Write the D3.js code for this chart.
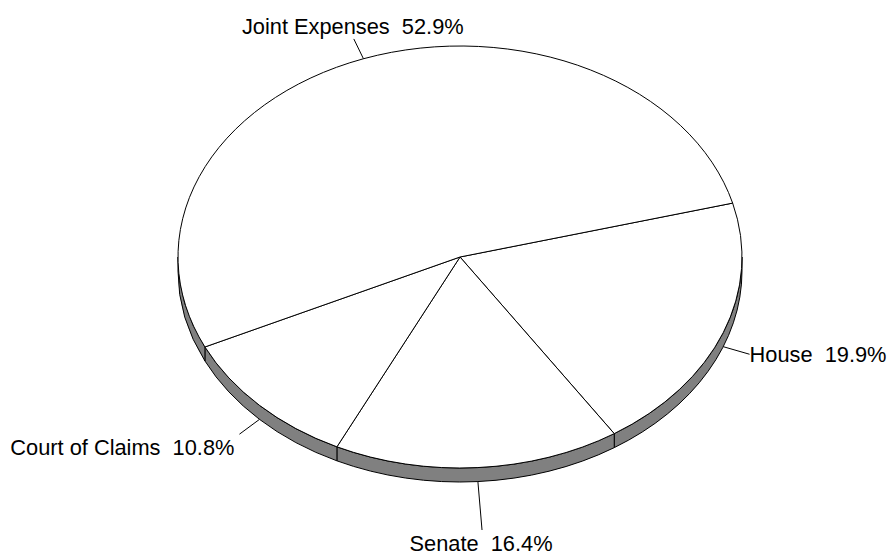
<!DOCTYPE html>
<html>
<head>
<meta charset="utf-8">
<script src="https://cdn.jsdelivr.net/npm/d3@7"></script>
<style>
  html, body { margin: 0; padding: 0; background: #fff; }
  svg { display: block; }
  text { font-family: "Liberation Sans", Arial, sans-serif; font-size: 21.8px; fill: #000; white-space: pre; }
</style>
</head>
<body>
<svg id="chart" width="891" height="556"></svg>
<script>
// Legislative branch spending shares (percent)
const categories = ["House", "Senate", "Court of Claims", "Joint Expenses"];
const shares = [19.9, 16.4, 10.8, 52.9];

const W = 891, H = 556;
const cx = 460, cy = 257;   // centre of the top face
const rx = 282, ry = 211;   // ellipse radii of the top face
const depth = 14;           // thickness of the disc
const startDeg = -14.8;     // screen angle (clockwise from +x) where the first slice begins

const svg = d3.select("#chart");
const toRad = d => d * Math.PI / 180;

// d3 angles run clockwise from 12 o'clock; screen angles from 3 o'clock
const pie = d3.pie().sort(null).value(d => d.v)
  .startAngle(toRad(startDeg + 90)).endAngle(toRad(startDeg + 90 + 360));
const arcs = pie(categories.map((c, i) => ({ c, v: shares[i] })));
const scr = a => a - Math.PI / 2;   // d3 angle -> screen angle
const pt = (t, dy = 0) => [cx + rx * Math.cos(t), cy + ry * Math.sin(t) + dy];

// Side walls (only the front half, 0..180° screen angle, is visible)
const sides = svg.append("g");
arcs.forEach(a => {
  let t0 = scr(a.startAngle), t1 = scr(a.endAngle);
  // normalise into a range overlapping [0, 2π)
  while (t0 < 0) { t0 += 2 * Math.PI; t1 += 2 * Math.PI; }
  [[0, Math.PI], [2 * Math.PI, 3 * Math.PI]].forEach(([lo, hi]) => {
    const a0 = Math.max(t0, lo), a1 = Math.min(t1, hi);
    if (a1 - a0 <= 1e-6) return;
    const p0 = pt(a0), p1 = pt(a1), q1 = pt(a1, depth), q0 = pt(a0, depth);
    const d = `M${p0}A${rx},${ry} 0 0 1 ${p1}L${q1}A${rx},${ry} 0 0 0 ${q0}Z`;
    sides.append("path").attr("d", d)
      .attr("fill", "#808080").attr("stroke", "#000").attr("stroke-width", 1)
      .attr("stroke-linejoin", "round");
  });
});

// Top face: circular d3 arcs squashed vertically into the ellipse
const arcGen = d3.arc().innerRadius(0).outerRadius(rx);
svg.append("g")
  .attr("transform", `translate(${cx},${cy}) scale(1,${ry / rx})`)
  .selectAll("path").data(arcs).join("path")
  .attr("d", arcGen)
  .attr("fill", "#fff").attr("stroke", "#000").attr("stroke-width", 1)
  .attr("vector-effect", "non-scaling-stroke")
  .attr("stroke-linejoin", "round");

// Leader lines and labels
const labels = svg.append("g");
arcs.forEach(a => {
  const t = scr((a.startAngle + a.endAngle) / 2);
  const c = Math.cos(t), s = Math.sin(t);
  const front = s > 0 ? depth : 0;
  const ext = s > 0.95 ? 1.23 : 1.1;
  const p0 = pt(t, front);
  const p1 = [cx + rx * ext * c, cy + ry * ext * s + front];
  labels.append("line")
    .attr("x1", p0[0]).attr("y1", p0[1]).attr("x2", p1[0]).attr("y2", p1[1])
    .attr("stroke", "#000").attr("stroke-width", 1);

  let anchor, x = p1[0], y;
  if (Math.abs(c) < 0.4) anchor = "middle";
  else anchor = c > 0 ? "start" : "end";
  if (anchor === "end") x -= 5;
  if (anchor === "middle") x -= 1;
  if (s > 0.6) y = p1[1] + 21;
  else if (s < -0.6) y = p1[1] - 5;
  else y = p1[1] + 8;
  labels.append("text")
    .attr("x", x).attr("y", y).attr("text-anchor", anchor)
    .text(`${a.data.c}  ${a.data.v.toFixed(1)}%`);
});
</script>
</body>
</html>
